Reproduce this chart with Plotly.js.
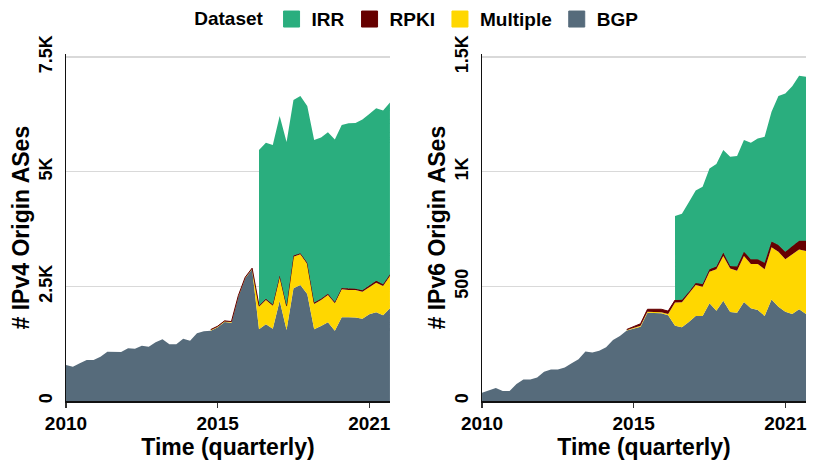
<!DOCTYPE html>
<html>
<head>
<meta charset="utf-8">
<script src="https://cdn.plot.ly/plotly-3.0.1.min.js"></script>
<style>html,body{margin:0;padding:0;background:#fff;}#chart{width:830px;height:468px;}</style>
</head>
<body>
<div id="chart"></div>
<script>
// Quarter index 0..47 = 2010Q1 .. 2021Q4
const quarters = Array.from({length: 48}, (_, i) => i);
const xTickVals = [0, 22, 44];
const xTickText = ['2010', '2015', '2021'];

// IPv4 origin ASes per dataset (null = dataset not present)
const bgp4 = [785,748,822,894,894,966,1075,1075,1070,1148,1140,1206,1185,1279,1344,1235,1235,1358,1315,1475,1519,1533,1606,1722,1707,2274,2674,2871,1563,1672,1577,2187,1548,2456,2529,2333,1563,1635,1716,1533,1824,1824,1818,1795,1890,1934,1868,2021];
const multiple4 = [null,null,null,null,null,null,null,null,null,null,null,null,null,null,null,null,null,null,null,null,null,15,15,15,15,15,15,15,493,530,501,523,508,690,669,654,552,567,595,596,611,596,602,588,588,646,639,704];
const rpki4 = [null,null,null,null,null,null,null,null,null,null,null,null,null,null,null,null,null,null,null,null,null,10,10,10,10,10,10,10,25,25,25,25,25,25,25,25,30,30,30,30,30,30,30,30,40,40,40,40];
const irr4 = [null,null,null,null,null,null,null,null,null,null,null,null,null,null,null,null,null,null,null,null,null,null,null,null,null,null,null,null,3391,3405,3478,3478,3564,3391,3427,3419,3545,3513,3516,3541,3552,3603,3610,3722,3737,3761,3788,3743];

// IPv6 origin ASes per dataset
const bgp6 = [36,45,57,44,44,74,94,94,103,127,137,137,146,165,182,216,212,219,234,266,283,307,315,324,385,385,383,374,328,322,344,371,371,426,394,437,388,385,432,404,397,371,443,411,389,379,400,379];
const multiple6 = [null,null,null,null,null,null,null,null,null,null,null,null,null,null,null,null,null,null,null,null,null,3,4,4,4,4,4,5,101,109,123,135,127,138,180,195,190,183,200,193,200,203,227,240,229,261,261,275];
const rpki6 = [null,null,null,null,null,null,null,null,null,null,null,null,null,null,null,null,null,null,null,null,null,2,5,9,11,12,13,13,11,11,8,8,12,10,12,15,11,18,19,21,21,29,25,29,33,36,38,45];
const irr6 = [null,null,null,null,null,null,null,null,null,null,null,null,null,null,null,null,null,null,null,null,null,null,null,null,null,null,null,null,367,374,392,404,424,440,447,447,476,482,487,508,527,549,566,650,690,697,719,715];

const seriesNames = ['IRR', 'RPKI', 'Multiple', 'BGP'];
const colors = {IRR: '#2aae7e', RPKI: '#660000', Multiple: '#ffd700', BGP: '#566b7b'};

const FONT = 'Liberation Sans, Arial, Helvetica, sans-serif';

function panel(bgp, mult, rpki, irr, xa, ya) {
  const traces = [];
  const base = {type: 'scatter', mode: 'lines', xaxis: xa, yaxis: ya, hoverinfo: 'skip', showlegend: false};
  traces.push(Object.assign({}, base, {x: quarters, y: bgp, fill: 'tozeroy', fillcolor: colors.BGP, line: {width: 0, color: colors.BGP}}));
  const layers = [[mult, 'Multiple', 0], [rpki, 'RPKI', 1], [irr, 'IRR', 0]];
  let prev = bgp.slice();
  layers.forEach(([vals, name, lw]) => {
    const idx = quarters.filter(i => vals[i] !== null);
    const next = prev.map((v, i) => vals[i] !== null ? v + vals[i] : v);
    traces.push(Object.assign({}, base, {x: idx, y: idx.map(i => prev[i]), line: {width: 0, color: colors[name]}}));
    traces.push(Object.assign({}, base, {x: idx, y: idx.map(i => next[i]), fill: 'tonexty', fillcolor: colors[name], line: {width: lw, color: colors[name]}}));
    prev = next;
  });
  return traces;
}

const data = [].concat(
  panel(bgp4, multiple4, rpki4, irr4, 'x', 'y'),
  panel(bgp6, multiple6, rpki6, irr6, 'x2', 'y2')
);
seriesNames.forEach(n => {
  data.push({type: 'scatter', mode: 'markers', x: [null], y: [null], name: n, xaxis: 'x', yaxis: 'y',
    marker: {symbol: 'square', size: 18, color: colors[n], line: {width: 1, color: colors[n]}}, showlegend: true, hoverinfo: 'skip'});
});

const tickFont = {family: FONT, size: 19, color: '#000', weight: 'bold'};
const yTickFont = {family: FONT, size: 18, color: '#000', weight: 'bold'};
const titleFont = {family: FONT, size: 23, color: '#000', weight: 'bold'};
// axis tops a little above the last gridline so that gridline is drawn
const yTop4 = 7560, yTop6 = 1512;
const yDomain = [0, 0.99928];

function xaxis(domain, anchor) {
  return {domain: domain, anchor: anchor, range: [0, 47], tickvals: xTickVals, ticktext: xTickText,
    showgrid: false, zeroline: false, showline: true, linecolor: '#111', linewidth: 1.5,
    ticks: 'outside', ticklen: 5, tickwidth: 1.5, tickcolor: '#333', tickfont: tickFont,
    title: {text: 'Time (quarterly)', font: titleFont, standoff: 1}, fixedrange: true, automargin: false};
}
function yaxis(anchor, max, vals, texts, title) {
  return {anchor: anchor, domain: yDomain, range: [0, max], tickvals: vals, ticktext: texts, tickangle: -90,
    showgrid: true, gridcolor: '#d9d9d9', gridwidth: 1.5, zeroline: false, showline: true,
    linecolor: '#111', linewidth: 1.5, ticks: '', tickfont: yTickFont, ticklabelstandoff: 5,
    title: {text: title, font: titleFont, standoff: 0}, fixedrange: true, automargin: false};
}

const layout = {
  width: 830, height: 468,
  margin: {l: 66, r: 24, t: 54, b: 67, autoexpand: false},
  paper_bgcolor: '#fff', plot_bgcolor: '#fff',
  showlegend: true,
  legend: {orientation: 'h', x: 0.476, xanchor: 'center', y: 1.1003, yanchor: 'middle',
    font: {family: FONT, size: 19, color: '#000', weight: 'bold'},
    title: {text: 'Dataset', side: 'left', font: {family: FONT, size: 19, color: '#000', weight: 'bold'}},
    itemwidth: 30, traceorder: 'normal', bgcolor: 'rgba(0,0,0,0)'},
  xaxis: xaxis([0, 0.4378], 'y'),
  xaxis2: xaxis([0.5622, 1], 'y2'),
  yaxis: yaxis('x', yTop4, [0, 2500, 5000, 7500], ['0', '2.5K', '5K', '7.5K'], '# IPv4 Origin ASes'),
  yaxis2: yaxis('x2', yTop6, [0, 500, 1000, 1500], ['0', '500', '1K', '1.5K'], '# IPv6 Origin ASes')
};

Plotly.newPlot('chart', data, layout, {displayModeBar: false, staticPlot: true});
</script>
</body>
</html>
